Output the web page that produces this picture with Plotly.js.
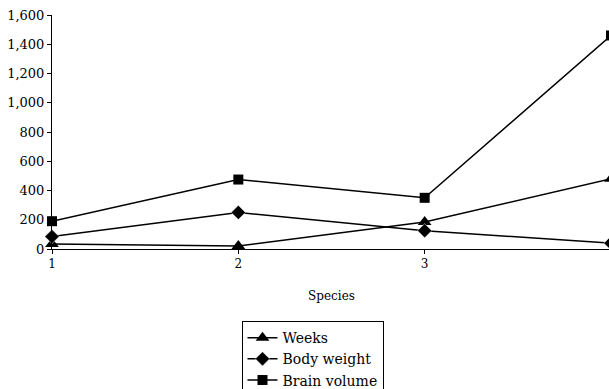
<!DOCTYPE html>
<html><head><meta charset="utf-8">
<script src="https://cdn.plot.ly/plotly-3.0.1.min.js"></script>
<style>html,body{margin:0;padding:0;overflow:hidden;background:#fff;}</style>
</head><body>
<div id="chart"></div>
<script>
const species = [1, 2, 3, 4];
const weeks = [35, 20, 185, 480];
const bodyWeight = [85, 250, 125, 40];
const brainVolume = [190, 475, 350, 1460];
const yTicks = [0, 200, 400, 600, 800, 1000, 1200, 1400, 1600];

const lineStyle = {color: '#000', width: 1.5};
const traces = [
  {x: species, y: weeks, name: 'Weeks', mode: 'lines+markers', line: lineStyle,
   marker: {symbol: 'triangle-up', size: 12, color: '#000'}},
  {x: species, y: bodyWeight, name: 'Body weight', mode: 'lines+markers', line: lineStyle,
   marker: {symbol: 'diamond', size: 11, color: '#000', line: {color: '#fff', width: 0.5}}},
  {x: species, y: brainVolume, name: 'Brain volume', mode: 'lines+markers', line: lineStyle,
   marker: {symbol: 'square', size: 10, color: '#000'}}
];
traces.forEach(t => t.cliponaxis = false);

const layout = {
  width: 611, height: 410,
  margin: {l: 52, r: 0, t: 15, b: 161},
  paper_bgcolor: '#fff', plot_bgcolor: '#fff',
  font: {family: 'DejaVu Serif', size: 13, color: '#000'},
  showlegend: true,
  xaxis: {
    range: [1, 4], tickvals: species, ticks: 'outside', ticklen: 4, tickcolor: '#000',
    showline: true, linecolor: '#000', linewidth: 1, showgrid: false, zeroline: false,
    tickfont: {size: 12},
    title: {text: 'Species', font: {size: 12}, standoff: 21}
  },
  yaxis: {
    range: [0, 1600], tickvals: yTicks, tickformat: ',d', ticks: 'outside', ticklen: 4,
    tickcolor: '#000', showline: true, linecolor: '#000', linewidth: 1,
    showgrid: false, zeroline: false, tickfont: {size: 13}
  },
  legend: {
    x: 0.339, xanchor: 'left', y: -0.308, yanchor: 'top',
    bordercolor: '#000', borderwidth: 1, bgcolor: '#fff',
    font: {size: 14}, tracegroupgap: 0
  }
};
Plotly.newPlot('chart', traces, layout, {displayModeBar: false, staticPlot: true});
</script>
</body></html>
